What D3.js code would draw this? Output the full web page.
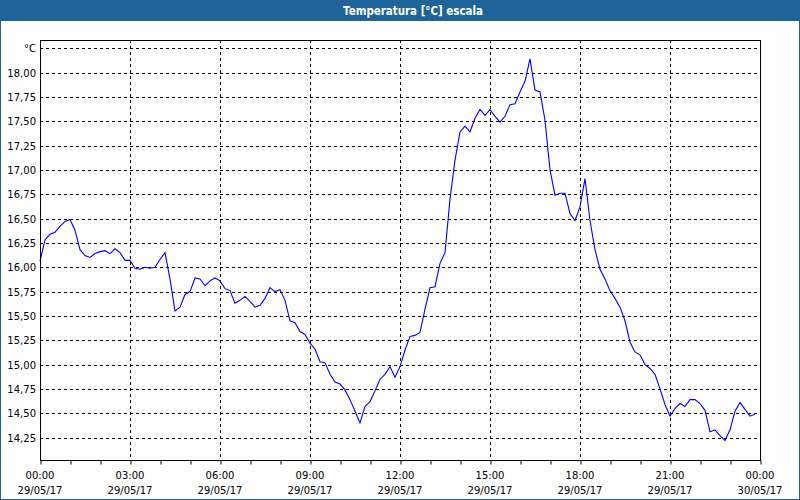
<!DOCTYPE html>
<html><head><meta charset="utf-8">
<script src="https://cdn.jsdelivr.net/npm/d3@7"></script>
<style>
html,body{margin:0;padding:0;background:#fff;}
svg{display:block;}
</style></head>
<body>
<svg id="c" width="800" height="500"></svg>
<script>
const title = "Temperatura [°C] escala";
const unitLabel = "°C";
const startTime = "2017-05-29T00:00:00";
const endTime = "2017-05-30T00:00:00";
const stepMinutes = 10;
// Temperature readings every 10 minutes from 00:00 29/05/17
const temps = [
16.06,16.28,16.34,16.36,16.42,16.47,16.49,16.38,16.18,16.12,
16.10,16.14,16.16,16.17,16.14,16.19,16.15,16.07,16.07,15.99,
15.98,16.00,15.99,16.00,16.08,16.15,15.88,15.55,15.59,15.72,
15.75,15.89,15.88,15.81,15.86,15.89,15.86,15.78,15.76,15.63,
15.66,15.70,15.65,15.59,15.61,15.68,15.79,15.75,15.77,15.66,
15.45,15.43,15.34,15.31,15.22,15.16,15.03,15.02,14.90,14.82,
14.80,14.74,14.64,14.52,14.40,14.57,14.62,14.73,14.85,14.90,
14.98,14.87,14.98,15.15,15.29,15.30,15.33,15.57,15.79,15.80,
16.04,16.15,16.70,17.10,17.39,17.45,17.39,17.53,17.62,17.56,
17.62,17.55,17.49,17.55,17.67,17.68,17.80,17.91,18.14,17.82,
17.80,17.51,17.00,16.74,16.76,16.76,16.55,16.48,16.62,16.91,
16.48,16.18,15.98,15.88,15.76,15.68,15.59,15.45,15.23,15.13,
15.10,15.00,14.96,14.90,14.75,14.59,14.47,14.55,14.60,14.57,
14.64,14.64,14.60,14.53,14.31,14.33,14.27,14.22,14.33,14.52,
14.61,14.54,14.47,14.49
];
const yTicks = [14.25,14.50,14.75,15.00,15.25,15.50,15.75,16.00,16.25,16.50,16.75,17.00,17.25,17.50,17.75,18.00];
const yUnitTick = 18.25;
const yDomain = [14.02, 18.334];

const svg = d3.select("#c");
const W = 800, H = 500;
const m = {left:40, right:40, top:40, bottom:40};
const t0 = new Date(startTime), t1 = new Date(endTime);

// window chrome
svg.append("rect").attr("x",0).attr("y",0).attr("width",W).attr("height",H).attr("fill","#1e6399");
svg.append("rect").attr("x",1).attr("y",21).attr("width",W-2).attr("height",H-22).attr("fill","#fdfefd");
svg.append("text").attr("x",413).attr("y",15).attr("text-anchor","middle")
  .attr("fill","#fff").attr("font-family","DejaVu Sans, Verdana, sans-serif").attr("font-weight","bold")
  .attr("font-size",11.5).attr("textLength",140).attr("lengthAdjust","spacingAndGlyphs").text(title);

const x = d3.scaleTime().domain([t0,t1]).range([m.left, W-m.right]);
const y = d3.scaleLinear().domain(yDomain).range([H-m.bottom, m.top]);

const data = temps.map((v,i)=>({t:new Date(t0.getTime()+i*stepMinutes*60000), v}));

const g = svg.append("g");
// horizontal grid
g.selectAll("line.hg").data(yTicks.concat([yUnitTick])).join("line")
  .attr("x1",m.left).attr("x2",W-m.right)
  .attr("y1",d=>Math.round(y(d))+0.5).attr("y2",d=>Math.round(y(d))+0.5)
  .attr("stroke","#000").attr("stroke-dasharray","3,3").attr("stroke-width",1);
// vertical grid every 3h
const vTicks = d3.timeHour.every(3).range(t0, t1).slice(1);
g.selectAll("line.vg").data(vTicks).join("line")
  .attr("y1",m.top).attr("y2",H-m.bottom)
  .attr("x1",d=>Math.round(x(d))+0.5).attr("x2",d=>Math.round(x(d))+0.5)
  .attr("stroke","#000").attr("stroke-dasharray","3,3").attr("stroke-width",1);

// line
const line = d3.line().x(d=>x(d.t)).y(d=>y(d.v));
g.append("path").datum(data).attr("d",line).attr("fill","none")
  .attr("stroke","#0000ff").attr("stroke-width",1.1);

// frame
g.append("rect").attr("x",m.left+0.5).attr("y",m.top+0.5)
  .attr("width",W-m.left-m.right).attr("height",H-m.top-m.bottom)
  .attr("fill","none").attr("stroke","#000").attr("stroke-width",1);

// x axis ticks (hourly) and labels (3-hourly)
const xAxis = d3.axisBottom(x).ticks(d3.timeHour.every(1)).tickSize(4).tickFormat("");
const ax = svg.append("g").attr("transform",`translate(0.5,${H-m.bottom+0.5})`).call(xAxis);
ax.select(".domain").remove();
ax.selectAll("line").attr("stroke","#000");
const fmtT = d3.timeFormat("%H:%M"), fmtD = d3.timeFormat("%d/%m/%y");
const labTicks = d3.timeHour.every(3).range(t0, new Date(t1.getTime()+1));
const lab = svg.append("g").attr("font-family","DejaVu Sans, Verdana, sans-serif").attr("font-size",10).attr("fill","#000");
labTicks.forEach(d=>{
  lab.append("text").attr("x",x(d)).attr("y",479).attr("text-anchor","middle").text(fmtT(d));
  lab.append("text").attr("x",x(d)).attr("y",494).attr("text-anchor","middle").text(fmtD(d));
});

// y labels
const fmtY = v => d3.format(".2f")(v).replace(".", ",");
const yl = svg.append("g").attr("font-family","DejaVu Sans, Verdana, sans-serif").attr("font-size",10).attr("fill","#000");
yTicks.forEach(v=>{
  yl.append("text").attr("x",36).attr("y",Math.round(y(v))+4).attr("text-anchor","end").text(fmtY(v));
});
yl.append("text").attr("x",36).attr("y",Math.round(y(yUnitTick))+4).attr("text-anchor","end").text(unitLabel);
</script>
</body></html>
